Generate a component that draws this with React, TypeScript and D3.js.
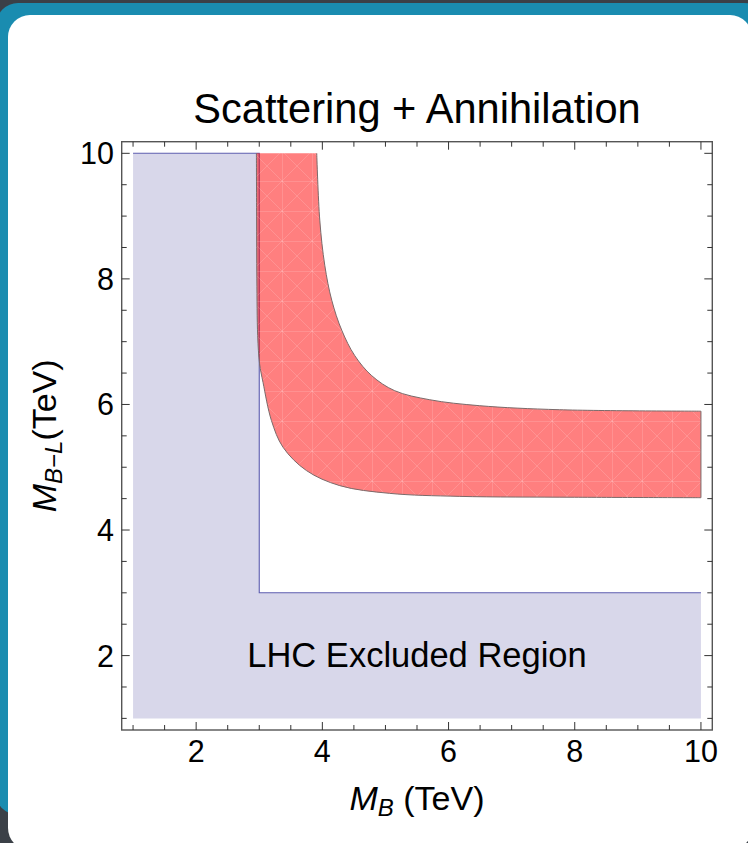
import React from 'react';
import * as d3 from 'd3';

// band of the red region: lower (inner) and upper (outer) edges, in TeV
const innerX = [2.955, 2.958, 2.962, 2.975, 3.005, 3.06, 3.193, 3.377, 3.748, 4.276, 5.068, 6.177, 8.0, 10.0];
const innerY = [10.0, 9.0, 8.0, 7.1, 6.65, 6.35, 5.744, 5.318, 4.947, 4.707, 4.584, 4.536, 4.522, 4.515];
const outerX = [3.911, 3.959, 4.038, 4.149, 4.308, 4.514, 4.783, 5.147, 5.702, 6.494, 7.762, 10.0];
const outerY = [10.0, 8.936, 8.218, 7.659, 7.181, 6.777, 6.458, 6.219, 6.075, 5.98, 5.916, 5.893];

// LHC excluded region (L shape)
const lhcX = [1, 10, 10, 3, 3, 1];
const lhcY = [1, 1, 3, 3, 10, 10];
const lhcEdgeX = [1, 3, 3, 10];
const lhcEdgeY = [10, 10, 3, 3];

const majorTicks = [2, 4, 6, 8, 10];
const minorTicks = d3.range(1, 10.01, 0.5);

const title = 'Scattering + Annihilation';
const regionLabel = 'LHC Excluded Region';

const FONT = "'Liberation Sans', Arial, Helvetica, sans-serif";

const left = 121.7;
const right = 712.3;
const top = 141.7;
const bottom = 730;

export default function App() {
  const x = d3.scaleLinear().domain([0.82, 10.18]).range([left, right]);
  const y = d3.scaleLinear().domain([0.815, 10.185]).range([bottom, top]);

  const pts = (xs: number[], ys: number[]) => xs.map((v, i) => [v, ys[i]] as [number, number]);

  const curve = d3
    .line<[number, number]>()
    .x(d => x(d[0]))
    .y(d => y(d[1]))
    .curve(d3.curveCatmullRom.alpha(0.5));
  const straight = d3
    .line<[number, number]>()
    .x(d => x(d[0]))
    .y(d => y(d[1]));

  const inner = pts(innerX, innerY);
  const outer = pts(outerX, outerY);
  // closed band: inner edge left->right, then outer edge right->left
  const bandPath =
    curve(inner) +
    'L' +
    curve(outer.slice().reverse()).slice(1) +
    'Z';
  const bandEdge =
    curve(outer) + 'L' + curve(inner.slice().reverse()).slice(1);

  const lhcPath = straight(pts(lhcX, lhcY)) + 'Z';
  const lhcEdge = straight(pts(lhcEdgeX, lhcEdgeY));

  const tickMajor = 8;
  const tickMinor = 5;

  return (
    <svg
      width={748}
      height={843}
      style={{ position: 'absolute', left: 0, top: 0 }}
      fontFamily={FONT}
    >
      <defs>
        <pattern id="mesh" x={12} y={1} width={30} height={30} patternUnits="userSpaceOnUse">
          <path d="M0 0H30M0 0V30" stroke="#fff" strokeOpacity={0.28} strokeWidth={1} fill="none" />
          <path d="M0 0L30 30M30 0L0 30" stroke="#fff" strokeOpacity={0.2} strokeWidth={0.8} fill="none" />
        </pattern>
      </defs>

      {/* slide frame */}
      <rect width={748} height={843} fill="#3b4047" />
      <rect x={-4} y={3} width={770} height={812} rx={22} fill="#1a8cb0" />
      <rect x={8} y={15} width={744} height={835} rx={22} fill="#fff" />

      {/* regions */}
      <path d={lhcPath} fill="#d8d7ea" />
      <path d={lhcEdge} fill="none" stroke="#5d5db0" strokeWidth={1.1} />
      <path d={bandPath} fill="#ff0000" fillOpacity={0.5} />
      <path d={bandPath} fill="url(#mesh)" />
      <path d={bandEdge} fill="none" stroke="#7a6a6a" strokeWidth={1} />

      {/* frame */}
      <rect
        x={left}
        y={top}
        width={right - left}
        height={bottom - top}
        fill="none"
        stroke="#555"
        strokeWidth={1.4}
      />
      <g stroke="#333" strokeWidth={1}>
        {minorTicks.map(t => {
          const len = majorTicks.includes(t) ? tickMajor : tickMinor;
          return (
            <g key={'t' + t}>
              <line x1={x(t)} x2={x(t)} y1={bottom} y2={bottom - len} />
              <line x1={x(t)} x2={x(t)} y1={top} y2={top + len} />
              <line x1={left} x2={left + len} y1={y(t)} y2={y(t)} />
              <line x1={right} x2={right - len} y1={y(t)} y2={y(t)} />
            </g>
          );
        })}
      </g>

      {/* tick labels */}
      <g fontSize={30.5} fill="#000">
        {majorTicks.map(t => (
          <text key={'x' + t} x={x(t)} y={762} textAnchor="middle">
            {t}
          </text>
        ))}
        {majorTicks.map(t => (
          <text key={'y' + t} x={114} y={y(t) + 11} textAnchor="end">
            {t}
          </text>
        ))}
      </g>

      {/* title and labels */}
      <text x={(left + right) / 2} y={123} textAnchor="middle" fontSize={41.6}>
        {title}
      </text>
      <text x={x(5.5)} y={y(2) + 11} textAnchor="middle" fontSize={34.5}>
        {regionLabel}
      </text>

      <text x={(left + right) / 2} y={810} textAnchor="middle" fontSize={34}>
        <tspan fontStyle="italic">M</tspan>
        <tspan fontStyle="italic" fontSize={24} dy={6}>B</tspan>
        <tspan dy={-6}> (TeV)</tspan>
      </text>

      <text
        transform={`translate(56,${(top + bottom) / 2}) rotate(-90)`}
        textAnchor="middle"
        fontSize={34}
      >
        <tspan fontStyle="italic">M</tspan>
        <tspan fontStyle="italic" fontSize={24} dy={6}>B−L</tspan>
        <tspan dy={-6}>(TeV)</tspan>
      </text>
    </svg>
  );
}
